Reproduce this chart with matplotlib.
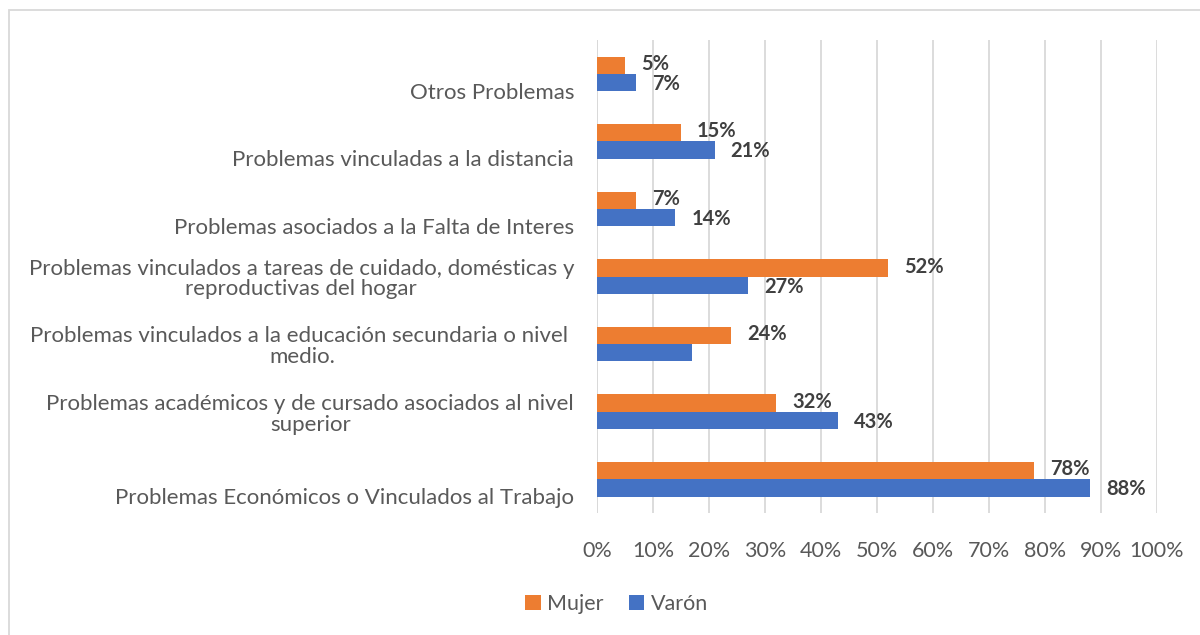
import matplotlib
matplotlib.use("Agg")
import matplotlib.pyplot as plt
import matplotlib.transforms as mtransforms
import numpy as np
from matplotlib.patches import Rectangle

# ── Data (top to bottom as shown) ─────────────────────────────────────────────
categories = [
    "Otros Problemas",
    "Problemas vinculadas a la distancia",
    "Problemas asociados a la Falta de Interes",
    "Problemas vinculados a tareas de cuidado, domésticas y\nreproductivas del hogar",
    "Problemas vinculados a la educación secundaria o nivel \nmedio.",
    "Problemas académicos y de cursado asociados al nivel\nsuperior",
    "Problemas Económicos o Vinculados al Trabajo",
]
mujer = [5, 15, 7, 52, 24, 32, 78]
varon = [7, 21, 14, 27, 17, 43, 88]
# the chart shows no label on the Varón bar for "educación secundaria"
varon_show = [True, True, True, True, False, True, True]

C_MUJER = "#ED7D31"
C_VARON = "#4472C4"
TXT = "#404040"
TICK = "#595959"
GRID = "#D9D9D9"
FS = 15.5

plt.rcParams["font.family"] = ["Lato", "DejaVu Sans"]

fig = plt.figure(figsize=(12, 6.35), dpi=100)
ax = fig.add_axes([0.4975, 0.192, 0.4667, 0.745])

n = len(categories)
y = np.arange(n)[::-1].astype(float)   # first category at the top
h = 0.255

ax.barh(y + h / 2, mujer, height=h, color=C_MUJER, label="Mujer", zorder=3)
ax.barh(y - h / 2, varon, height=h, color=C_VARON, label="Varón", zorder=3)

for yi, m, v, show in zip(y, mujer, varon, varon_show):
    ax.annotate(f"{m}%", xy=(m, yi + h / 2), xytext=(11.5, 1), textcoords="offset points",
                va="center", ha="left", fontsize=14.5, fontweight="bold", color=TXT)
    if show:
        ax.annotate(f"{v}%", xy=(v, yi - h / 2), xytext=(11.5, -1), textcoords="offset points",
                    va="center", ha="left", fontsize=14.5, fontweight="bold", color=TXT)

ax.set_xlim(0, 100)
ax.set_ylim(-0.5, n - 0.5)
ax.set_xticks(np.arange(0, 101, 10))
ax.set_xticklabels([f"{t}%" for t in range(0, 101, 10)])
ax.set_yticks(y)
ax.set_yticklabels(categories, multialignment="center", linespacing=1.05)
ax.tick_params(axis="x", length=0, pad=20, labelsize=FS, labelcolor=TICK)
ax.tick_params(axis="y", length=0, pad=16.5, labelsize=16, labelcolor=TICK)

# single-line category labels sit a bit below the bar pair, as in the original
shift = mtransforms.ScaledTranslation(0, -17 / 100, fig.dpi_scale_trans)
for lab in ax.get_yticklabels():
    if "\n" not in lab.get_text():
        lab.set_transform(lab.get_transform() + shift)

ax.grid(axis="x", color=GRID, lw=1.3, zorder=0)
for s in ax.spines.values():
    s.set_visible(False)
ax.axvline(0, color=GRID, lw=1.3, zorder=1)

fig.legend(loc="center", bbox_to_anchor=(0.514, 0.049), ncol=2, frameon=False,
           fontsize=FS, handlelength=0.7, handleheight=0.7, handletextpad=0.3,
           columnspacing=1.2, labelcolor=TICK)

# outer chart frame
fig.patches.append(Rectangle((9 / 1200, -0.05), 1.1, 1 - 10 / 635 + 0.05,
                             transform=fig.transFigure, fill=False,
                             edgecolor=GRID, lw=1.3))

fig.savefig("out.png", dpi=100)
